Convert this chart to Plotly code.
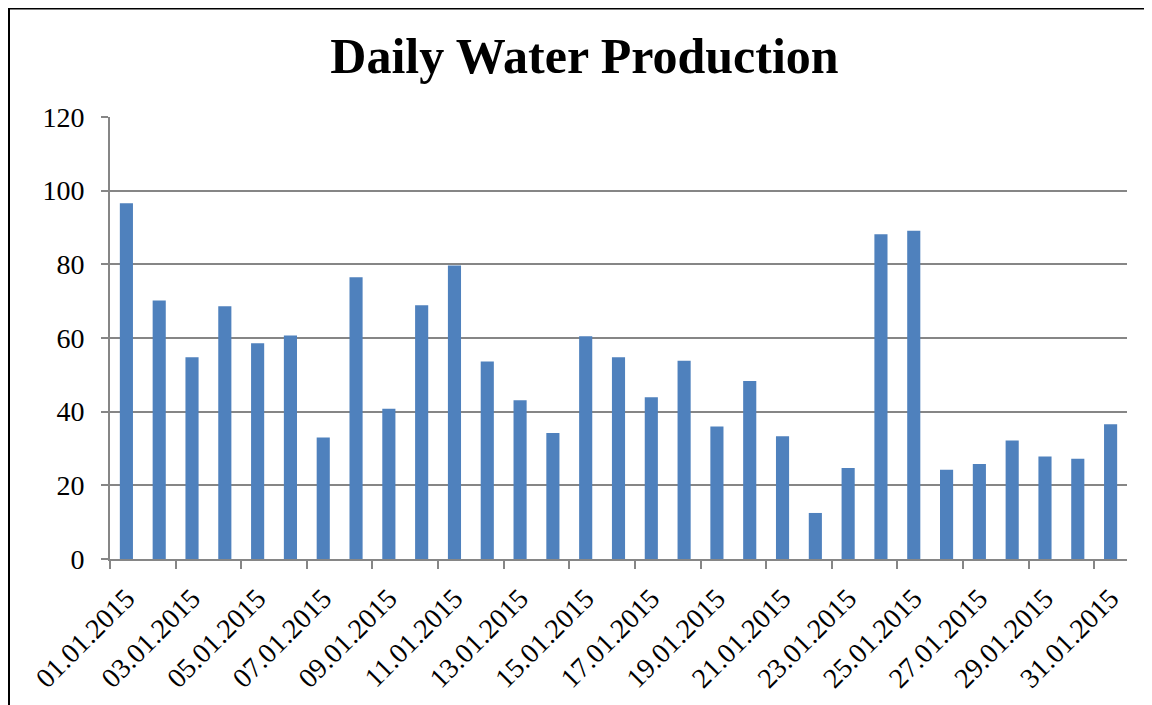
import plotly.graph_objects as go

dates = [f"{d:02d}.01.2015" for d in range(1, 32)]
production = [96.6, 70.2, 54.8, 68.6, 58.6, 60.7, 33.0, 76.5, 40.8, 68.9,
              79.7, 53.6, 43.1, 34.2, 60.5, 54.8, 43.9, 53.8, 36.0, 48.3,
              33.3, 12.5, 24.7, 88.2, 89.1, 24.2, 25.8, 32.2, 27.8, 27.2, 36.6]
y_ticks = [0, 20, 40, 60, 80, 100, 120]

FONT = "Liberation Serif"
GRID = "#868686"

W, H = 1144, 697
L, R, T, B = 102, 25, 109, 146
PW, PH = W - L - R, H - T - B

fig = go.Figure(go.Bar(
    x=dates, y=production,
    marker=dict(color="#4F81BD", line=dict(width=0)),
))

fig.update_layout(
    width=W, height=H, autosize=False,
    margin=dict(l=L, r=R, t=T, b=B),
    paper_bgcolor="white", plot_bgcolor="white",
    bargap=0.6,
    showlegend=False,
    font=dict(family=FONT, size=28, color="black"),
    title=dict(text="<b>Daily Water Production</b>",
               font=dict(family=FONT, size=50, color="black"),
               x=576.5 / W, xref="container", xanchor="center",
               y=1 - 47 / H, yref="container", yanchor="middle"),
    shapes=[
        dict(type="line", xref="paper", yref="paper",
             x0=(1 - L) / PW, x1=(1 - L) / PW,
             y0=(H - B - 0) / PH, y1=-B / PH,
             line=dict(color="black", width=2)),
        dict(type="line", xref="paper", yref="paper",
             x0=(0 - L) / PW, x1=(W - L) / PW,
             y0=(H - B - 0.5) / PH, y1=(H - B - 0.5) / PH,
             line=dict(color="black", width=2)),
    ],
)

fig.update_xaxes(
    type="category", tickmode="linear", tick0=0, dtick=2,
    tickson="boundaries", ticks="outside", ticklen=8, tickcolor=GRID, tickwidth=1.6,
    showgrid=False, showline=True, linecolor=GRID, linewidth=1.6,
    tickangle=-45, tickfont=dict(family=FONT, size=28, color="black"),
    ticklabelstandoff=10,
)
fig.update_yaxes(
    range=[0, 120], tickvals=y_ticks, ticks="outside", ticklen=7,
    tickcolor=GRID, tickwidth=1.6,
    showgrid=True, gridcolor=GRID, gridwidth=1.6,
    showline=True, linecolor=GRID, linewidth=1.6, zeroline=False,
    tickfont=dict(family=FONT, size=28, color="black"),
    ticklabelstandoff=11,
)

fig.write_html("out.html", config={"displayModeBar": False, "responsive": False})
